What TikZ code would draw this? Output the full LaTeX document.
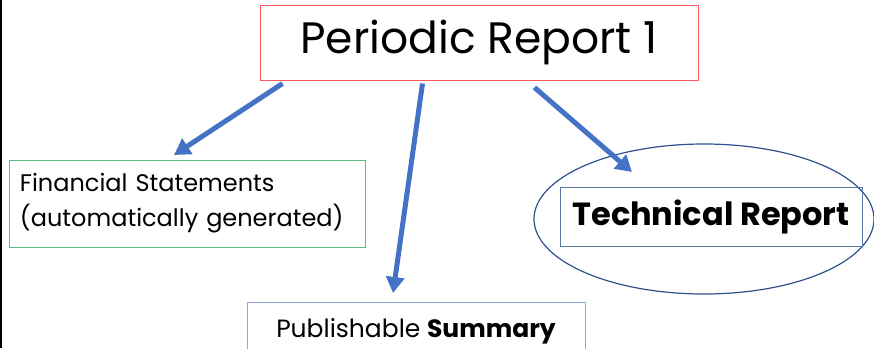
\documentclass[tikz,border=0pt]{standalone}
\usepackage{fontspec}
\setmainfont{Poppins}
\usepackage{tikz}
\usetikzlibrary{arrows.meta,shapes.geometric}

\definecolor{prred}{RGB}{255,90,90}
\definecolor{prgreen}{RGB}{90,190,130}
\definecolor{prlight}{RGB}{140,170,220}
\definecolor{prblue}{RGB}{68,114,196}
\definecolor{prdark}{RGB}{47,82,143}

\tikzset{
  box/.style={draw,rectangle,inner sep=0pt,line width=1pt},
  link/.style={prblue,line width=5pt,-{Triangle[length=16pt,width=18pt]}},
}

\begin{document}
\begin{tikzpicture}[x=1pt,y=-1pt]
  \useasboundingbox (0,0) rectangle (874,348);
  \draw[line width=2pt] (1,0) -- (1,348);
  % top box
  \node[box,draw=prred,minimum width=438pt,minimum height=75pt,font=\fontsize{44}{48}\selectfont] (PR) at (479,42.5) {Periodic Report 1};
  % the three parts
  \node[box,draw=prgreen,minimum width=356pt,minimum height=87pt,text width=344pt,inner xsep=6pt,align=left,font=\fontsize{24}{35}\selectfont] (FS) at (187,203.5) {\hspace*{5pt}Financial Statements\\\hspace*{5pt}(automatically generated)};
  \node[box,draw=prlight,anchor=north,minimum width=338pt,inner ysep=17pt,text height=18pt,text depth=18pt,font=\fontsize{25}{30}\selectfont] (PS) at (416,302) {Publishable \textbf{Summary}};
  \node[draw=prdark,ellipse,line width=1.2pt,minimum width=340pt,minimum height=150pt] (TE) at (704,219) {};
  \node[box,draw=prdark!80,minimum width=302pt,minimum height=59pt,font=\fontsize{32}{36}\selectfont\bfseries] (TR) at (711,216.5) {Technical Report};
  % arrows
  \coordinate (FS-in) at (174,155);
  \coordinate (PS-in) at (393,293);
  \coordinate (TR-in) at (632,172);
  \draw[link] ([xshift=23pt,yshift=-3pt]PR.south west) -- (FS-in);
  \draw[link] ([xshift=163pt,yshift=-3pt]PR.south west) -- (PS-in);
  \draw[link] ([xshift=275pt,yshift=-7pt]PR.south west) -- (TR-in);
\end{tikzpicture}
\end{document}
